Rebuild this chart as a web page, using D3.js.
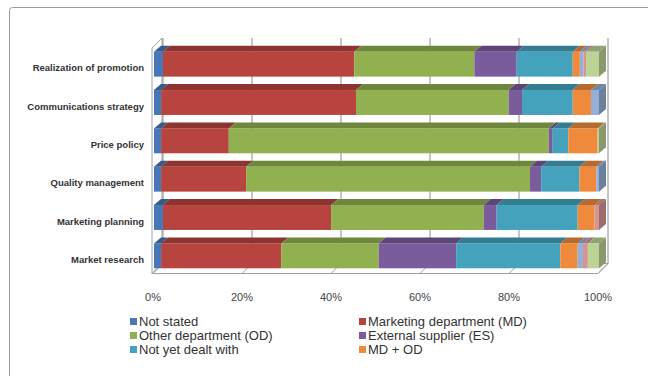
<!DOCTYPE html>
<html>
<head>
<meta charset="utf-8">
<script src="https://cdn.jsdelivr.net/npm/d3@7"></script>
<style>
  body { margin: 0; background: #fff; }
  svg { display: block; }
</style>
</head>
<body>
<svg id="chart"></svg>
<script>
const categories = [
  'Realization of promotion',
  'Communications strategy',
  'Price policy',
  'Quality management',
  'Marketing planning',
  'Market research'
];

const seriesNames = [
  'Not stated',
  'Marketing department (MD)',
  'Other department (OD)',
  'External supplier (ES)',
  'Not yet dealt with',
  'MD + OD',
  'MD + ES',
  'OD + ES',
  'MD + OD + ES'
];

const seriesColors = [
  '#4677b8', '#b8443f', '#91b050', '#7a5c9c', '#44a2bd',
  '#ef8a3c', '#95b0d8', '#d49593', '#bcd396'
];

// one entry per category, in the order above (percent)
const notStated   = [2.0, 1.6, 1.6, 1.6, 2.0, 1.6];
const marketing   = [43.0, 43.8, 15.2, 19.1, 37.8, 27.0];
const otherDept   = [27.0, 34.3, 71.9, 63.8, 34.3, 21.9];
const external    = [9.5, 3.0, 0.9, 2.5, 2.9, 17.4];
const notYet      = [12.6, 11.4, 3.5, 8.6, 18.2, 23.4];
const mdOd        = [1.6, 4.1, 6.6, 3.8, 3.8, 3.9];
const mdEs        = [0.8, 1.8, 0, 0.6, 0, 1.2];
const odEs        = [0.6, 0, 0, 0, 1.0, 1.1];
const mdOdEs      = [2.9, 0, 0.3, 0, 0, 2.5];

const seriesValues = [notStated, marketing, otherDept, external, notYet, mdOd, mdEs, odEs, mdOdEs];

const xTicks = [0, 20, 40, 60, 80, 100];

const width = 648, height = 376;
const svg = d3.select('#chart').attr('width', width).attr('height', height);

// outer frame
svg.append('rect')
  .attr('x', 9.5).attr('y', 7.5)
  .attr('width', 700).attr('height', 500)
  .attr('rx', 3)
  .attr('fill', 'none')
  .attr('stroke', '#9a9a9a');

const wall = { dx: 10, dy: -10 };
const bar = { dx: 7, dy: -6 };
const floorY = 273.5;
const wallTop = 48;

const x = d3.scaleLinear().domain([0, 100]).range([153, 598]);
const y = d3.scaleBand().domain(categories)
  .range([45, 275]).paddingInner(0.35).paddingOuter(0.175);

const gWall = svg.append('g');

// left wall
gWall.append('path')
  .attr('d', `M${x(0) - 1},${wallTop} l${wall.dx},${wall.dy} L${x(0) - 1 + wall.dx},${floorY + wall.dy} L${x(0) - 1},${floorY} Z`)
  .attr('fill', '#fff').attr('stroke', '#a0a0a0');

// floor
gWall.append('path')
  .attr('d', `M${x(0) - 1},${floorY} L${x(100)},${floorY} l${wall.dx},${wall.dy} L${x(0) - 1 + wall.dx},${floorY + wall.dy} Z`)
  .attr('fill', '#fff').attr('stroke', '#a0a0a0');

// back wall gridlines
gWall.selectAll('.grid')
  .data(xTicks)
  .enter().append('line')
  .attr('class', 'grid')
  .attr('x1', d => x(d) + wall.dx).attr('x2', d => x(d) + wall.dx)
  .attr('y1', wallTop + wall.dy).attr('y2', floorY + wall.dy)
  .attr('stroke', '#8c8c8c');

// floor tick lines
gWall.selectAll('.floorTick')
  .data(xTicks)
  .enter().append('line')
  .attr('class', 'floorTick')
  .attr('x1', d => x(d)).attr('y1', floorY)
  .attr('x2', d => x(d) + wall.dx).attr('y2', floorY + wall.dy)
  .attr('stroke', '#a0a0a0');

// bars: front face + top face per segment, side face on the last one
const gBars = svg.append('g');
categories.forEach((cat, ci) => {
  const y0 = y(cat);
  const h = y.bandwidth();
  let acc = 0;
  const segs = seriesValues.map((vals, si) => {
    const s = { si, from: acc, to: acc + vals[ci], v: vals[ci] };
    acc += vals[ci];
    return s;
  }).filter(s => s.v > 0);

  const g = gBars.append('g').attr('class', 'bar');
  segs.forEach(s => {
    const c = d3.color(seriesColors[s.si]);
    const x0 = x(s.from) + 1, x1 = x(s.to) + 1;
    g.append('path')
      .attr('d', `M${x0},${y0} l${bar.dx},${bar.dy} L${x1 + bar.dx},${y0 + bar.dy} L${x1},${y0} Z`)
      .attr('fill', c.darker(0.75));
    g.append('rect')
      .attr('x', x0).attr('y', y0)
      .attr('width', Math.max(0, x1 - x0)).attr('height', h)
      .attr('fill', c);
  });
  const last = segs[segs.length - 1];
  const xr = x(last.to) + 1;
  g.append('path')
    .attr('d', `M${xr},${y0} l${bar.dx},${bar.dy} l0,${h} L${xr},${y0 + h} Z`)
    .attr('fill', d3.color(seriesColors[last.si]).darker(0.9));
});

// category labels
svg.selectAll('.catLabel')
  .data(categories)
  .enter().append('text')
  .attr('class', 'catLabel')
  .attr('x', 144)
  .attr('y', d => y(d) + y.bandwidth() / 2 + 4)
  .attr('dy', '0.35em')
  .attr('text-anchor', 'end')
  .attr('font-family', '"Liberation Sans Narrow", "Liberation Sans", Arial, sans-serif')
  .attr('font-weight', 'bold')
  .attr('font-size', 9.5)
  .attr('fill', '#333')
  .text(d => d);

// x tick labels
svg.selectAll('.tickLabel')
  .data(xTicks)
  .enter().append('text')
  .attr('class', 'tickLabel')
  .attr('x', d => x(d))
  .attr('y', 301)
  .attr('text-anchor', 'middle')
  .attr('font-family', '"Liberation Sans", Arial, sans-serif')
  .attr('font-size', 11)
  .attr('fill', '#444')
  .text(d => d + '%');

// legend (only the rows visible in the frame)
const legendItems = seriesNames.slice(0, 6);
const legend = svg.selectAll('.legendItem')
  .data(legendItems)
  .enter().append('g')
  .attr('class', 'legendItem')
  .attr('transform', (d, i) => `translate(${i % 2 === 0 ? 130 : 359},${326 + Math.floor(i / 2) * 14})`);

legend.append('rect')
  .attr('x', 0).attr('y', -8)
  .attr('width', 7).attr('height', 7)
  .attr('fill', (d, i) => seriesColors[i]);

legend.append('text')
  .attr('x', 9)
  .attr('y', 0)
  .attr('font-family', '"Liberation Sans Narrow", "Liberation Sans", Arial, sans-serif')
  .attr('font-size', 13)
  .attr('fill', '#333')
  .text(d => d);
</script>
</body>
</html>
